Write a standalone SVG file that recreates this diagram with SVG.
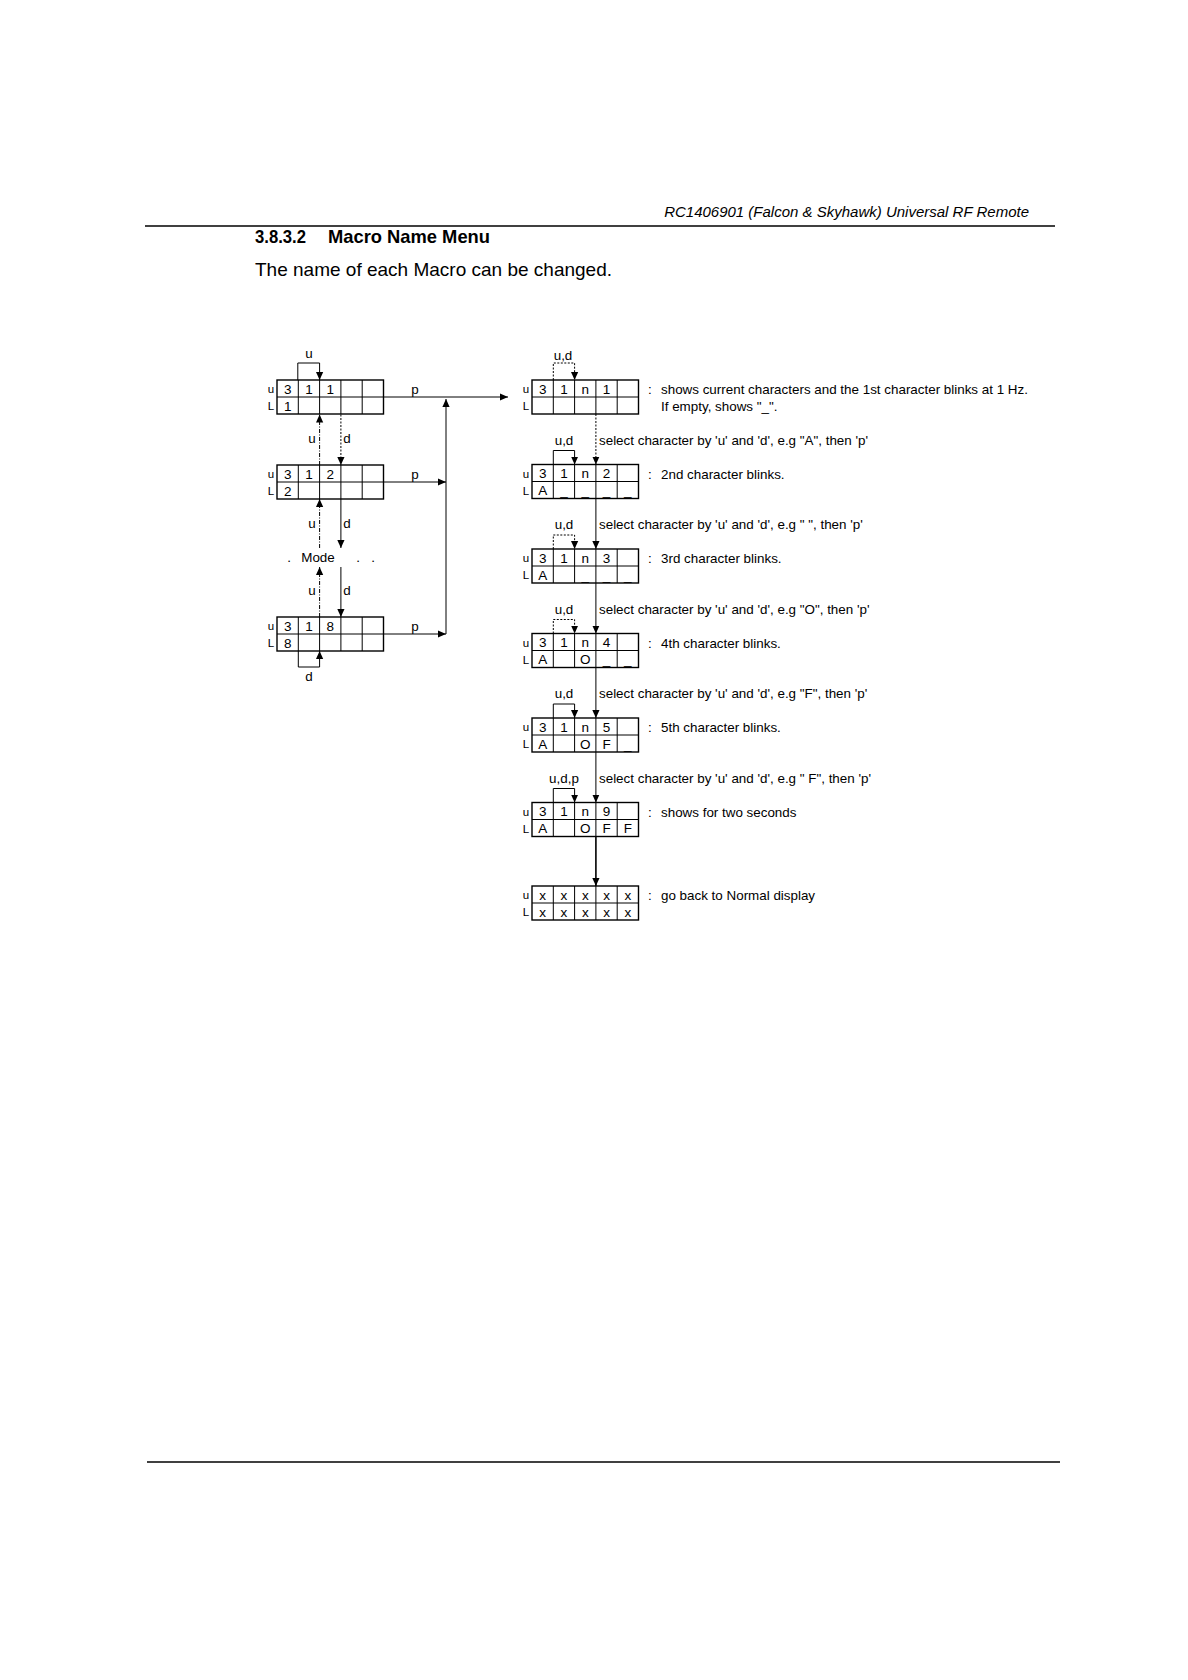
<svg xmlns="http://www.w3.org/2000/svg" xmlns:xlink="http://www.w3.org/1999/xlink" width="1188" height="1680" viewBox="0 0 1188 1680">
<style>
text { font-family: "Liberation Sans", Arial, sans-serif; fill: #000; }
.hdr { font-size: 15px; font-style: italic; }
.h1 { font-size: 18.5px; font-weight: bold; }
.body { font-size: 19px; }
.t { font-size: 13.4px; }
.c { font-size: 13.5px; text-anchor: middle; }
.m { font-size: 13.4px; text-anchor: middle; }
.rl { font-size: 11.5px; text-anchor: middle; }
.grid { fill: none; stroke: #000; stroke-width: 1.4; }
.in { stroke: #000; stroke-width: 1; }
.ln { fill: none; stroke: #000; stroke-width: 1; }
.dot { stroke-dasharray: 2 1.5; }
.dd { stroke-dasharray: 4 1.5 1 1.5; }
.rule { stroke: #000; stroke-width: 1.4; }
</style>
<defs>
<marker id="ah" viewBox="0 0 10 10" refX="10" refY="5" markerWidth="8" markerHeight="8" markerUnits="userSpaceOnUse" orient="auto">
<path d="M0,0.5 L10,5 L0,9.5 z" fill="#000"/>
</marker>
<g id="box">
<rect class="grid" x="0" y="0" width="106.5" height="34"/>
<line class="in" x1="0" y1="17" x2="106.5" y2="17"/>
<line class="in" x1="21.3" y1="0" x2="21.3" y2="34"/>
<line class="in" x1="42.6" y1="0" x2="42.6" y2="34"/>
<line class="in" x1="63.9" y1="0" x2="63.9" y2="34"/>
<line class="in" x1="85.2" y1="0" x2="85.2" y2="34"/>
</g>
</defs>
<rect width="1188" height="1680" fill="#fff"/>

<g id="page">
<text class="hdr" x="1029" y="217" text-anchor="end">RC1406901 (Falcon &amp; Skyhawk) Universal RF Remote</text>
<line class="rule" x1="145" y1="226" x2="1055" y2="226"/>
<text class="h1" x="255" y="243" textLength="51" lengthAdjust="spacingAndGlyphs">3.8.3.2</text>
<text class="h1" x="328" y="243" textLength="162" lengthAdjust="spacingAndGlyphs">Macro Name Menu</text>
<text class="body" x="255" y="276">The name of  each Macro can be changed.</text>
<line class="rule" x1="147" y1="1462" x2="1060" y2="1462"/>
</g>

<g id="L1" transform="translate(277,380)">
<use xlink:href="#box"/>
<text class="rl" x="-6" y="13">u</text><text class="rl" x="-6" y="30">L</text>
<text class="c" x="10.65" y="13.5">3</text><text class="c" x="31.95" y="13.5">1</text><text class="c" x="53.25" y="13.5">1</text>
<text class="c" x="10.65" y="30.5">1</text>
</g>
<g id="L2" transform="translate(277,465)">
<use xlink:href="#box"/>
<text class="rl" x="-6" y="13">u</text><text class="rl" x="-6" y="30">L</text>
<text class="c" x="10.65" y="13.5">3</text><text class="c" x="31.95" y="13.5">1</text><text class="c" x="53.25" y="13.5">2</text>
<text class="c" x="10.65" y="30.5">2</text>
</g>
<g id="mode">
<text class="m" x="289" y="562">.</text>
<text class="m" x="318" y="562">Mode</text>
<text class="m" x="358" y="562">.</text>
<text class="m" x="373" y="562">.</text>
</g>
<g id="L3" transform="translate(277,617)">
<use xlink:href="#box"/>
<text class="rl" x="-6" y="13">u</text><text class="rl" x="-6" y="30">L</text>
<text class="c" x="10.65" y="13.5">3</text><text class="c" x="31.95" y="13.5">1</text><text class="c" x="53.25" y="13.5">8</text>
<text class="c" x="10.65" y="30.5">8</text>
</g>

<g id="R1" transform="translate(532,380)">
<use xlink:href="#box"/>
<text class="rl" x="-6" y="13">u</text><text class="rl" x="-6" y="30">L</text>
<text class="c" x="10.65" y="13.5">3</text><text class="c" x="31.95" y="13.5">1</text><text class="c" x="53.25" y="13.5">n</text><text class="c" x="74.55" y="13.5">1</text>
<text class="t" x="116" y="14">:</text>
<text class="t" x="129" y="14">shows current characters and the 1st character blinks at 1 Hz.</text>
<text class="t" x="129" y="31">If empty, shows "_".</text>
</g>
<g id="R2" transform="translate(532,464.5)">
<use xlink:href="#box"/>
<text class="rl" x="-6" y="13">u</text><text class="rl" x="-6" y="30">L</text>
<text class="c" x="10.65" y="13.5">3</text><text class="c" x="31.95" y="13.5">1</text><text class="c" x="53.25" y="13.5">n</text><text class="c" x="74.55" y="13.5">2</text>
<text class="c" x="10.65" y="30.5">A</text><text class="c" x="31.95" y="30.5">_</text><text class="c" x="53.25" y="30.5">_</text><text class="c" x="74.55" y="30.5">_</text><text class="c" x="95.85" y="30.5">_</text>
<text class="t" x="116" y="14">:</text>
<text class="t" x="129" y="14">2nd character blinks.</text>
</g>
<g id="R3" transform="translate(532,549)">
<use xlink:href="#box"/>
<text class="rl" x="-6" y="13">u</text><text class="rl" x="-6" y="30">L</text>
<text class="c" x="10.65" y="13.5">3</text><text class="c" x="31.95" y="13.5">1</text><text class="c" x="53.25" y="13.5">n</text><text class="c" x="74.55" y="13.5">3</text>
<text class="c" x="10.65" y="30.5">A</text><text class="c" x="53.25" y="30.5">_</text><text class="c" x="74.55" y="30.5">_</text><text class="c" x="95.85" y="30.5">_</text>
<text class="t" x="116" y="14">:</text>
<text class="t" x="129" y="14">3rd character blinks.</text>
</g>
<g id="R4" transform="translate(532,633.5)">
<use xlink:href="#box"/>
<text class="rl" x="-6" y="13">u</text><text class="rl" x="-6" y="30">L</text>
<text class="c" x="10.65" y="13.5">3</text><text class="c" x="31.95" y="13.5">1</text><text class="c" x="53.25" y="13.5">n</text><text class="c" x="74.55" y="13.5">4</text>
<text class="c" x="10.65" y="30.5">A</text><text class="c" x="53.25" y="30.5">O</text><text class="c" x="74.55" y="30.5">_</text><text class="c" x="95.85" y="30.5">_</text>
<text class="t" x="116" y="14">:</text>
<text class="t" x="129" y="14">4th character blinks.</text>
</g>
<g id="R5" transform="translate(532,718)">
<use xlink:href="#box"/>
<text class="rl" x="-6" y="13">u</text><text class="rl" x="-6" y="30">L</text>
<text class="c" x="10.65" y="13.5">3</text><text class="c" x="31.95" y="13.5">1</text><text class="c" x="53.25" y="13.5">n</text><text class="c" x="74.55" y="13.5">5</text>
<text class="c" x="10.65" y="30.5">A</text><text class="c" x="53.25" y="30.5">O</text><text class="c" x="74.55" y="30.5">F</text><text class="c" x="95.85" y="30.5">_</text>
<text class="t" x="116" y="14">:</text>
<text class="t" x="129" y="14">5th character blinks.</text>
</g>
<g id="R6" transform="translate(532,802.5)">
<use xlink:href="#box"/>
<text class="rl" x="-6" y="13">u</text><text class="rl" x="-6" y="30">L</text>
<text class="c" x="10.65" y="13.5">3</text><text class="c" x="31.95" y="13.5">1</text><text class="c" x="53.25" y="13.5">n</text><text class="c" x="74.55" y="13.5">9</text>
<text class="c" x="10.65" y="30.5">A</text><text class="c" x="53.25" y="30.5">O</text><text class="c" x="74.55" y="30.5">F</text><text class="c" x="95.85" y="30.5">F</text>
<text class="t" x="116" y="14">:</text>
<text class="t" x="129" y="14">shows for two seconds</text>
</g>
<g id="R7" transform="translate(532,886)">
<use xlink:href="#box"/>
<text class="rl" x="-6" y="13">u</text><text class="rl" x="-6" y="30">L</text>
<text class="c" x="10.65" y="13.5">x</text><text class="c" x="31.95" y="13.5">x</text><text class="c" x="53.25" y="13.5">x</text><text class="c" x="74.55" y="13.5">x</text><text class="c" x="95.85" y="13.5">x</text>
<text class="c" x="10.65" y="30.5">x</text><text class="c" x="31.95" y="30.5">x</text><text class="c" x="53.25" y="30.5">x</text><text class="c" x="74.55" y="30.5">x</text><text class="c" x="95.85" y="30.5">x</text>
<text class="t" x="116" y="14">:</text>
<text class="t" x="129" y="14">go back to Normal display</text>
</g>

<g id="connectors">
<path class="ln" d="M297.8,380 V363 H319.6 V380" marker-end="url(#ah)"/>
<path class="ln" d="M383.5,397 H508" marker-end="url(#ah)"/>
<path class="ln dd" d="M319.6,465 V414.5" marker-end="url(#ah)"/>
<path class="ln dot" d="M340.9,414.5 V465" marker-end="url(#ah)"/>
<path class="ln" d="M383.5,482 H446" marker-end="url(#ah)"/>
<path class="ln dd" d="M319.6,548 V499" marker-end="url(#ah)"/>
<path class="ln" d="M340.9,499 V548" marker-end="url(#ah)"/>
<path class="ln dd" d="M319.6,617 V567" marker-end="url(#ah)"/>
<path class="ln" d="M340.9,567 V617" marker-end="url(#ah)"/>
<path class="ln" d="M298.3,651 V667 H319.6 V651" marker-end="url(#ah)"/>
<path class="ln" d="M383.5,634 H446" marker-end="url(#ah)"/>
<path class="ln" d="M446,634 V399" marker-end="url(#ah)"/>

<path class="ln dot" d="M553.3,380 V363 H574.6 V380" marker-end="url(#ah)"/>
<path class="ln" d="M553.3,464.5 V450.5 H574.6 V464.5" marker-end="url(#ah)"/>
<path class="ln dot" d="M553.3,549 V535 H574.6 V549" marker-end="url(#ah)"/>
<path class="ln dot" d="M553.3,633.5 V619.5 H574.6 V633.5" marker-end="url(#ah)"/>
<path class="ln" d="M553.3,718 V704 H574.6 V718" marker-end="url(#ah)"/>
<path class="ln" d="M553.3,802.5 V788.5 H574.6 V802.5" marker-end="url(#ah)"/>

<path class="ln dot" d="M595.9,414 V464.5" marker-end="url(#ah)"/>
<path class="ln" d="M595.9,498.5 V549" marker-end="url(#ah)"/>
<path class="ln" d="M595.9,583 V633.5" marker-end="url(#ah)"/>
<path class="ln" d="M595.9,667.5 V718" marker-end="url(#ah)"/>
<path class="ln" d="M595.9,752 V802.5" marker-end="url(#ah)"/>
<path class="ln" style="stroke-width:1.6" d="M595.9,836.5 V886" marker-end="url(#ah)"/>
</g>

<g id="labels">
<text class="m" x="309" y="358">u</text>
<text class="m" x="415" y="394">p</text>
<text class="m" x="312" y="443">u</text>
<text class="m" x="347" y="443">d</text>
<text class="m" x="415" y="479">p</text>
<text class="m" x="312" y="528">u</text>
<text class="m" x="347" y="528">d</text>
<text class="m" x="312" y="595">u</text>
<text class="m" x="347" y="595">d</text>
<text class="m" x="415" y="631">p</text>
<text class="m" x="309" y="681">d</text>

<text class="m" x="563" y="360">u,d</text>
<text class="m" x="564" y="444.5">u,d</text>
<text class="t" x="599" y="444.5">select character by 'u' and 'd', e.g "A", then 'p'</text>
<text class="m" x="564" y="529">u,d</text>
<text class="t" x="599" y="529">select character by 'u' and 'd', e.g " ", then 'p'</text>
<text class="m" x="564" y="613.5">u,d</text>
<text class="t" x="599" y="613.5">select character by 'u' and 'd', e.g "O", then 'p'</text>
<text class="m" x="564" y="698">u,d</text>
<text class="t" x="599" y="698">select character by 'u' and 'd', e.g "F", then 'p'</text>
<text class="m" x="564" y="782.5">u,d,p</text>
<text class="t" x="599" y="782.5">select character by 'u' and 'd', e.g " F", then 'p'</text>
</g>
</svg>
